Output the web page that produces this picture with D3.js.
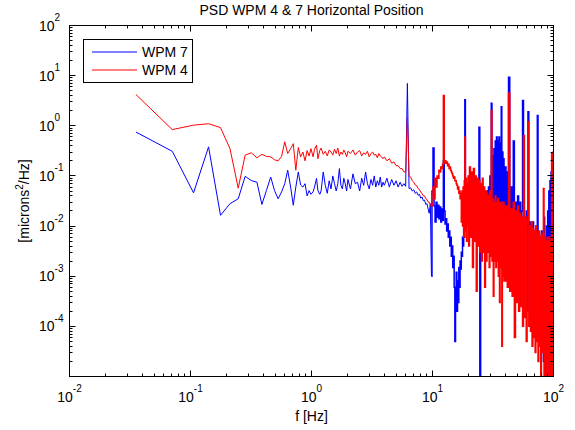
<!DOCTYPE html>
<html><head><meta charset="utf-8">
<script src="https://cdn.jsdelivr.net/npm/d3@7"></script>
<style>
body{margin:0;background:#fff}
svg{display:block}
text{font-family:"Liberation Sans",Arial,Helvetica,sans-serif;fill:#000}
</style>
</head><body>
<svg id="chart" width="575" height="430"></svg>
<script>
// ---------- DATA (frequency in Hz, PSD in microns^2/Hz) ----------
const freqLow = [0.0354,0.0707,0.106,0.141,0.177,0.212,0.248,0.283,0.318,0.354,0.389,0.424,0.46,0.495,0.53,0.566,0.601,0.636,0.672,0.707,0.742,0.778,0.813,0.849,0.884,0.92,0.955,0.99,1.03,1.06,1.1,1.13,1.17];
const wpm7Low = [0.75,0.31,0.046,0.38,0.0164,0.028,0.035,0.098,0.081,0.075,0.027,0.051,0.095,0.051,0.035,0.048,0.07,0.13,0.06,0.026,0.06,0.12,0.066,0.06,0.07,0.04,0.051,0.043,0.048,0.06,0.089,0.051,0.043];
const wpm4Low = [4.2,0.84,1.03,1.1,0.92,0.35,0.057,0.26,0.29,0.23,0.27,0.245,0.24,0.21,0.2,0.245,0.48,0.28,0.35,0.44,0.13,0.37,0.24,0.3,0.2,0.32,0.25,0.35,0.24,0.34,0.41,0.22,0.32];

const freqMid = [1.2,1.25,1.3,1.35,1.4,1.45,1.5,1.55,1.6,1.65,1.7,1.75,1.8,1.85,1.9,1.95,2.0,2.1,2.2,2.3,2.4,2.5,2.6,2.7,2.8,2.9,3.0,3.1,3.2,3.3,3.4,3.5,3.6,3.7,3.8,3.9,4.0,4.2,4.4,4.6,4.8,5.0,5.2,5.4,5.6,5.8,6.0,6.2,6.4,6.6,6.8,7.0,7.2,7.4,7.6,7.8,8.0,8.2,8.4,8.6,8.8,9.0,9.2,9.4,9.6,9.8];
const wpm7Mid = [0.05,0.12,0.065,0.045,0.08,0.055,0.1,0.07,0.05,0.07,0.14,0.065,0.055,0.09,0.07,0.05,
  0.085,0.055,0.11,0.07,0.075,0.05,0.09,0.065,0.12,0.07,0.055,0.085,0.065,0.1,0.06,0.08,0.065,0.095,0.06,0.075,
  0.065,0.09,0.06,0.085,0.065,0.08,0.06,0.075,0.062,0.07,
  0.062,7.0,0.056,0.058,0.05,0.053,0.045,0.048,0.041,0.043,0.036,0.038,0.032,0.033,0.027,0.028,0.022,0.018,0.028,0.001];
const wpm4Mid = [0.36,0.27,0.31,0.25,0.33,0.3,0.26,0.34,0.28,0.36,0.25,0.3,0.27,0.33,0.29,0.24,
  0.31,0.28,0.33,0.26,0.3,0.32,0.25,0.29,0.27,0.31,0.24,0.28,0.3,0.26,0.27,0.23,0.28,0.25,0.24,0.22,
  0.24,0.2,0.22,0.18,0.19,0.16,0.16,0.14,0.14,0.12,
  0.12,1.5,0.1,0.095,0.08,0.075,0.066,0.064,0.056,0.054,0.047,0.045,0.04,0.04,0.035,0.034,0.03,0.03,0.026,0.025];

const freqHigh1 = [10,10.2,10.4,10.6,10.8,11,11.2,11.4,11.6,11.8,12,12.2,12.4,12.6,12.8,13,13.2,13.4,13.6,13.8,14,14.2,14.4,14.6,14.8,15,15.2,15.4,15.6,15.8,16,16.2,16.4,16.6,16.8,17,17.2,17.4,17.6,17.8,18,18.2,18.4,18.6,18.8,19,19.2,19.4,19.6,19.8];
const wpm7High1 = [0.05,0.36,0.025,0.012,0.03,0.015,0.026,0.014,0.024,0.012,
  0.022,0.013,0.2,0.02,0.011,0.014,0.008,0.011,0.006,0.008,
  0.004,0.006,0.0025,0.004,0.0015,0.0025,0.0006,0.00005,0.0004,0.0012,
  0.0002,0.0008,0.0003,0.0015,0.0006,0.002,0.0014,0.003,0.0025,0.006,
  0.004,0.01,0.006,3.3,0.01,0.015,0.012,0.02,0.015,0.025];
const wpm4High1 = [0.026,0.06,0.035,0.09,0.06,0.1,0.09,0.13,0.12,0.15,
  0.14,0.17,4.0,0.18,0.2,0.18,0.19,0.16,0.17,0.14,
  0.15,0.13,0.12,0.11,0.1,0.09,0.095,0.08,0.08,0.07,
  0.065,0.055,0.06,0.045,0.05,0.035,0.045,0.012,0.05,0.01,
  0.06,0.006,0.08,0.6,0.008,0.09,0.005,0.07,0.01,0.1];

const freqHigh2 = [20,20.4,20.8,21.2,21.6,22,22.4,22.8,23.2,23.6,24,24.4,24.8,25.2,25.6,26,26.4,26.8,27.2,27.6,28,28.4,28.8,29.2,29.6,30,30.4,30.8,31.2,31.6,32,32.4,32.8,33.2,33.6,34,34.4,34.8,35.2,35.6,36,36.4,36.8,37.2,37.6,38,38.4,38.8,39.2,39.6];
const wpm7High2 = [0.03,0.015,0.04,0.02,0.05,0.02,0.06,0.015,0.05,0.01,
  0.04,0.93,0.000003,0.03,0.008,0.04,0.01,0.03,0.006,0.035,
  0.008,0.05,0.01,0.06,0.008,0.1,0.01,2.8,0.02,0.25,
  0.015,0.35,0.02,0.5,0.015,0.6,0.02,0.5,0.01,0.6,
  0.02,0.45,0.015,2.4,0.02,0.3,0.01,0.22,0.008,0.15];
const wpm4High2 = [0.004,0.15,0.006,0.12,0.0015,0.14,0.005,0.1,0.0005,0.09,
  0.004,0.08,0.003,0.07,0.002,0.09,0.003,0.06,0.0006,0.05,
  0.002,0.045,0.003,0.04,0.0015,0.05,0.0025,2.0,0.002,0.035,
  0.0004,0.03,0.002,0.04,0.0015,0.03,0.002,0.035,0.001,0.03,
  0.0003,0.028,0.0015,0.03,0.00004,0.025,0.001,0.03,0.0008,0.025];

const freqHigh3 = [40,41,42,43,44,45,46,47,48,49,50,51,52,53,54,55,56,57,58,59,60,61,62,63,64,65,66,67,68,69,70,71,72,73,74,75,76,77,78,79,80,81,82,83,84,85,86,87,88,89,90,91,92,93,94,95,96,97,98,99,100];
const wpm7High3 = [0.15,0.01,0.12,9.3,0.01,0.06,0.004,0.5,0.003,0.03,
  0.002,0.04,0.001,0.03,0.0008,0.02,3.2,0.0005,0.015,0.0003,
  0.02,0.0002,1.9,0.0004,0.012,0.0002,0.01,0.0001,0.012,0.0003,
  0.008,0.00008,0.01,0.0002,1.6,0.00005,0.007,0.0001,0.006,0.00003,
  0.008,0.0001,0.005,0.00002,0.015,0.00005,0.006,0.00001,0.01,0.00004,
  0.02,0.000008,0.05,0.00003,0.08,0.00002,0.12,0.00005,0.1,0.0001,
  0.05];
const wpm4High3 = [0.0008,0.025,0.0006,4.5,0.0005,0.022,0.0004,0.03,0.00006,0.02,
  0.0003,0.025,0.0002,0.018,0.00025,0.015,0.0001,0.64,0.00015,0.015,
  0.00005,0.012,1.2,0.0001,0.01,0.00008,0.012,0.00004,0.009,0.00006,
  0.008,0.00003,0.01,0.00005,0.007,0.00002,0.008,0.00004,0.006,0.00001,
  0.007,0.00003,0.006,0.056,0.00001,0.006,0.00002,0.005,0.000008,0.006,
  0.00002,0.005,0.000005,0.006,0.00001,0.005,0.000006,0.28,0.00001,0.007,
  0.3];

const seriesNames = ["WPM 7", "WPM 4"];
const seriesColors = ["#0000ff", "#ff0000"];
const xTickExponents = [-2, -1, 0, 1, 2];
const yTickExponents = [-4, -3, -2, -1, 0, 1, 2];
const titleText = "PSD WPM 4 & 7 Horizontal Position";
const xLabelText = "f [Hz]";

// ---------- BUILD ----------
const freqSparse = [...freqLow, ...freqMid];
const freqDense = [...freqHigh1, ...freqHigh2, ...freqHigh3];
const series = [
  {name: seriesNames[0], color: seriesColors[0],
   sparse: [...wpm7Low, ...wpm7Mid], dense: [...wpm7High1, ...wpm7High2, ...wpm7High3]},
  {name: seriesNames[1], color: seriesColors[1],
   sparse: [...wpm4Low, ...wpm4Mid], dense: [...wpm4High1, ...wpm4High2, ...wpm4High3]}
];

const svg = d3.select("#chart");
const L = 69.5, R = 553.5, T = 25.5, B = 376.5;
const x = d3.scaleLog().domain([1e-2, 1e2]).range([L, R]);
const y = d3.scaleLog().domain([1e-5, 1e2]).range([B, T]);

svg.append("rect").attr("width", 575).attr("height", 430).attr("fill", "#fff");

svg.append("defs").append("clipPath").attr("id", "clip")
  .append("rect").attr("x", L).attr("y", T).attr("width", R - L).attr("height", B - T);

const lineLin = d3.line().x(d => x(d[0])).y(d => y(Math.max(d[1], 1e-9)));
const lineStep = d3.line().curve(d3.curveStep).x(d => x(d[0])).y(d => y(Math.max(d[1], 1e-9)));

const plot = svg.append("g").attr("clip-path", "url(#clip)");
series.forEach(s => {
  const sp = freqSparse.map((f, i) => [f, s.sparse[i]]);
  const dn = [sp[sp.length - 1], ...freqDense.map((f, i) => [f, s.dense[i]])];
  plot.append("path").datum(sp).attr("d", lineLin)
    .attr("fill", "none").attr("stroke", s.color).attr("stroke-width", 1)
    .attr("stroke-linejoin", "round");
  plot.append("path").datum(dn).attr("d", lineStep)
    .attr("fill", "none").attr("stroke", s.color).attr("stroke-width", 1.5);
});

// axes box
svg.append("rect").attr("x", L).attr("y", T).attr("width", R - L).attr("height", B - T)
  .attr("fill", "none").attr("stroke", "#000").attr("stroke-width", 1);

const axG = svg.append("g").attr("stroke", "#000").attr("stroke-width", 1);
const majLen = 6, minLen = 3;
x.ticks().forEach(v => {
  const isMaj = Math.abs(Math.log10(v) - Math.round(Math.log10(v))) < 1e-9;
  const len = isMaj ? majLen : minLen;
  const px = Math.round(x(v) - 0.5) + 0.5;
  axG.append("line").attr("x1", px).attr("x2", px).attr("y1", B).attr("y2", B - len);
  axG.append("line").attr("x1", px).attr("x2", px).attr("y1", T).attr("y2", T + len);
});
y.ticks().forEach(v => {
  const isMaj = Math.abs(Math.log10(v) - Math.round(Math.log10(v))) < 1e-9;
  const len = isMaj ? majLen : minLen;
  const py = Math.round(y(v) - 0.5) + 0.5;
  axG.append("line").attr("y1", py).attr("y2", py).attr("x1", L).attr("x2", L + len);
  axG.append("line").attr("y1", py).attr("y2", py).attr("x1", R).attr("x2", R - len);
});

xTickExponents.forEach(e => {
  const t = svg.append("text").attr("x", x(Math.pow(10, e))).attr("y", 401.5)
    .attr("text-anchor", "middle").attr("font-size", 14);
  t.append("tspan").text("10");
  t.append("tspan").attr("font-size", 10).attr("dy", -9.5).text(String(e));
});
yTickExponents.forEach(e => {
  const t = svg.append("text").attr("x", 39).attr("y", y(Math.pow(10, e)) + 5)
    .attr("text-anchor", "start").attr("font-size", 14);
  t.append("tspan").text("10");
  t.append("tspan").attr("font-size", 10).attr("dy", -9.5).text(String(e));
});

svg.append("text").attr("x", (L + R) / 2).attr("y", 15).attr("text-anchor", "middle")
  .attr("font-size", 14).text(titleText);
svg.append("text").attr("x", (L + R) / 2).attr("y", 420.5).attr("text-anchor", "middle")
  .attr("font-size", 14).text(xLabelText);
const yl = svg.append("text").attr("transform", `translate(29,${(T + B) / 2}) rotate(-90)`)
  .attr("text-anchor", "middle").attr("font-size", 14);
yl.append("tspan").text("[microns");
yl.append("tspan").attr("font-size", 10).attr("dy", -6).text("2");
yl.append("tspan").attr("dy", 6).text("/Hz]");

const lg = svg.append("g");
lg.append("rect").attr("x", 83.5).attr("y", 39.5).attr("width", 109).attr("height", 43)
  .attr("fill", "#fff").attr("stroke", "#000").attr("stroke-width", 1);
series.forEach((s, i) => {
  const ly = 52 + i * 18;
  lg.append("line").attr("x1", 92).attr("x2", 137).attr("y1", ly).attr("y2", ly)
    .attr("stroke", s.color).attr("stroke-width", 1);
  lg.append("text").attr("x", 142).attr("y", ly + 5).attr("font-size", 14).text(s.name);
});
</script>
</body></html>
